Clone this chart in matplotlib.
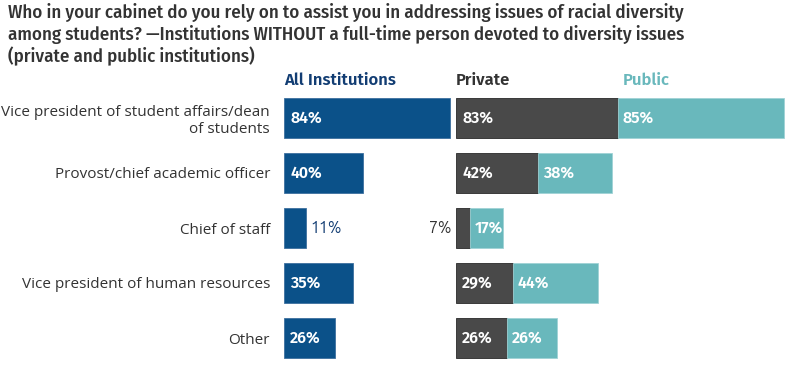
import matplotlib.pyplot as plt
from matplotlib.transforms import blended_transform_factory

# data
roles = [
    "Vice president of student affairs/dean\nof students",
    "Provost/chief academic officer",
    "Chief of staff",
    "Vice president of human resources",
    "Other",
]
all_inst = [84, 40, 11, 35, 26]
private = [83, 42, 7, 29, 26]
public = [85, 38, 17, 44, 26]

title = ("Who in your cabinet do you rely on to assist you in addressing issues of racial diversity\n"
         "among students? \u2014Institutions WITHOUT a full-time person devoted to diversity issues\n"
         "(private and public institutions)")

c_all = "#0b5189"
c_all_head = "#123d73"
c_priv = "#494949"
c_pub = "#69b8bc"
c_text = "#333333"

label_font = ["Open Sans", "DejaVu Sans"]
value_font = ["Fira Sans", "DejaVu Sans"]
plain_font = ["Ubuntu", "DejaVu Sans"]
title_font = ["Fira Sans Condensed", "DejaVu Sans"]

W, H = 800, 371
fig = plt.figure(figsize=(W / 100, H / 100), dpi=100)


# axes boxes in pixels (left, top, right, bottom)
def px_axes(l, t, r, b):
    return fig.add_axes([l / W, 1 - b / H, (r - l) / W, (b - t) / H])


ax1 = px_axes(284, 90.5, 481.5, 365.5)
ax2 = px_axes(456, 90.5, 787.5, 365.5)

ys = list(range(len(roles)))
bar_h = 0.71
small = 12

for ax in (ax1, ax2):
    ax.set_ylim(len(roles) - 0.5, -0.5)
    ax.patch.set_visible(False)
ax2.axis("off")

ax1.set_xlim(0, 100)
ax2.set_xlim(0, 170)

# all institutions
ax1.barh(ys, all_inst, height=bar_h, color=c_all, edgecolor="#3d6f9f", linewidth=0.6)
for y, v in zip(ys, all_inst):
    if v < small:
        ax1.annotate(f"{v}%", (v, y), xytext=(3, 0), textcoords="offset points",
                     ha="left", va="center", color=c_all_head, fontsize=11.5,
                     family=plain_font)
    else:
        ax1.annotate(f"{v}%", (0, y), xytext=(4.5, 0), textcoords="offset points",
                     ha="left", va="center", color="white", fontsize=11.5,
                     fontweight=600, family=value_font)

# private + public stacked
ax2.barh(ys, private, height=bar_h, color=c_priv, edgecolor="#2a2a2a", linewidth=0.6)
ax2.barh(ys, public, left=private, height=bar_h, color=c_pub, edgecolor="#9fd2d5", linewidth=0.6)
for y, p, q in zip(ys, private, public):
    if p < small:
        ax2.annotate(f"{p}%", (0, y), xytext=(-3, 0), textcoords="offset points",
                     ha="right", va="center", color=c_text, fontsize=11.5,
                     family=plain_font)
    else:
        ax2.annotate(f"{p}%", (0, y), xytext=(4.5, 0), textcoords="offset points",
                     ha="left", va="center", color="white", fontsize=11.5,
                     fontweight=600, family=value_font)
    ax2.annotate(f"{q}%", (p, y), xytext=(3.5, 0), textcoords="offset points",
                 ha="left", va="center", color="white", fontsize=11.5,
                 fontweight=600, family=value_font)

# category labels as y tick labels
for s in ax1.spines.values():
    s.set_visible(False)
ax1.set_xticks([])
ax1.set_yticks(ys)
ax1.set_yticklabels(roles, fontsize=11, color=c_text, family=label_font)
ax1.tick_params(axis="y", length=0, pad=10)

# column headers
tr1 = blended_transform_factory(ax1.transData, ax1.transAxes)
tr2 = blended_transform_factory(ax2.transData, ax2.transAxes)
ax1.text(0, 1.008, "All Institutions", transform=tr1, ha="left", va="bottom",
         color=c_all_head, fontsize=12, fontweight=600, family=value_font)
ax2.text(0, 1.008, "Private", transform=tr2, ha="left", va="bottom",
         color=c_text, fontsize=12, fontweight=600, family=value_font)
ax2.text(private[0] + 2.5, 1.008, "Public", transform=tr2, ha="left", va="bottom",
         color=c_pub, fontsize=12, fontweight=600, family=value_font)

fig.text(8 / W, 1 - 3 / H, title, ha="left", va="top", fontsize=13.6,
         fontweight=500, color=c_text, family=title_font, linespacing=1.18)

fig.savefig("out.png", dpi=100)
